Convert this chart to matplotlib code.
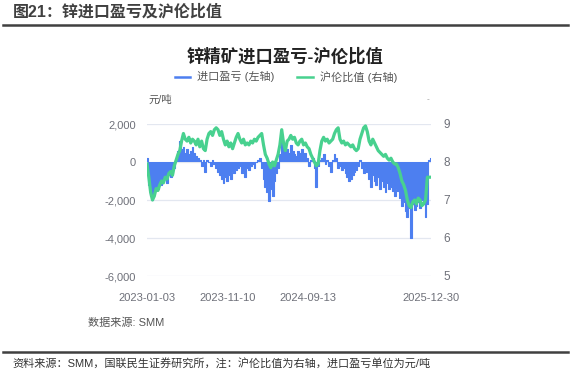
import matplotlib
matplotlib.use("Agg")
import matplotlib.pyplot as plt
import matplotlib.dates as mdates
import numpy as np
import pandas as pd

plt.rcParams['font.family'] = ['Liberation Sans', 'Noto Sans CJK SC', 'DejaVu Sans']

# ---------------- data (weekly readings from the picture) ----------------
dates = pd.date_range("2023-01-03", "2025-12-30", freq="7D")

import_profit = [
    200, -1200, -1800, -2000, -1600, -1300, -1400, -1100, -1200, -1000,
    -900, -1100, -700, -800, -600, -300, 100, 600, 1100, 700,
    800, 500, 700, 400, 600, 800, 500, 300, 200, 100,
    -200, 100, -500, 100, 0, -200, 100, -100, -300, -500,
    -700, -900, -1100, -800, -1000, -700, -900, -500, -600, -400,
    -300, -200, -600, -500, -800, -300, -400, -200, -100, -300,
    0, 100, 200, -300, -900, -1300, -1600, -2050, -1400, -1800,
    -1000, -600, -300, 400, 1100, 600, 800, 700, 500, 900,
    600, 400, 300, 600, 500, 700, 300, 500, 200, -200,
    100, 200, -300, -1300, -200, 100, 200, 400, -100, 100,
    -200, -500, 100, 400, 200, -300, -200, -400, -300, -600,
    -800, -1000, -900, -700, -500, -400, -200, 100, -300, -600,
    -300, -500, -900, -1300, -700, -1000, -1200, -800, -1400, -1000,
    -1300, -1600, -1100, -1400, -1300, -1500, -1800, -1400, -1500, -1900,
    -2300, -2100, -2600, -2900, -2400, -4000, -2200, -2500, -2300, -2100,
    -2400, -2000, -2200, -2900, -2200, 100, 200,
]

shfe_lme_ratio = [
    7.95, 7.6, 7.2, 7.0, 7.1, 7.3, 7.25, 7.4, 7.5, 7.45,
    7.6, 7.55, 7.7, 7.75, 7.65, 7.9, 8.05, 8.2, 8.3, 8.55,
    8.75, 8.6, 8.55, 8.65, 8.5, 8.6, 8.55, 8.45, 8.6, 8.4,
    8.55, 8.35, 8.3, 8.6, 8.75, 8.8, 8.7, 8.85, 8.9, 8.85,
    8.7, 8.8, 8.6, 8.45, 8.55, 8.4, 8.5, 8.35, 8.5, 8.65,
    8.75, 8.6, 8.5, 8.6, 8.45, 8.5, 8.45, 8.55, 8.5, 8.6,
    8.55, 8.65, 8.7, 8.75, 8.45, 8.2, 8.1, 7.95, 7.85, 8.0,
    7.9, 8.05, 8.2, 8.45, 8.85, 8.5, 8.3, 8.55, 8.6, 8.7,
    8.6, 8.65, 8.5, 8.45, 8.55, 8.6, 8.45, 8.5, 8.4, 8.35,
    8.2, 8.1, 8.0, 7.9, 7.95, 8.3, 8.55, 8.65, 8.55, 8.6,
    8.5, 8.55, 8.6, 8.75, 8.85, 8.9, 8.6, 8.5, 8.55, 8.45,
    8.5, 8.45, 8.4, 8.45, 8.35, 8.3, 8.35, 8.6, 8.75, 8.9,
    8.95, 8.8, 8.55, 8.45, 8.6, 8.5, 8.4, 8.3, 8.25, 8.2,
    8.15, 8.2, 8.1, 8.05, 8.1, 8.0, 7.95, 7.95, 7.85, 7.7,
    7.5, 7.4, 7.25, 7.0, 6.85, 6.8, 6.95, 7.0, 6.9, 7.05,
    7.0, 6.85, 6.9, 7.0, 7.6, 7.6, 7.6,
]

left_ticks = [2000, 0, -2000, -4000, -6000]
left_labels = ["2,000", "0", "-2,000", "-4,000", "-6,000"]
right_ticks = [9, 8, 7, 6, 5]
x_tick_dates = ["2023-01-03", "2023-11-10", "2024-09-13", "2025-12-30"]

title_text = "图21：锌进口盈亏及沪伦比值"
chart_title = "锌精矿进口盈亏-沪伦比值"
legend_labels = ["进口盈亏 (左轴)", "沪伦比值 (右轴)"]
source_inner = "数据来源: SMM"
footnote = "资料来源：SMM，国联民生证券研究所，注：沪伦比值为右轴，进口盈亏单位为元/吨"

# ---------------- figure ----------------
W, H = 576, 375
fig = plt.figure(figsize=(W / 100, H / 100), dpi=100)
fig.patch.set_facecolor("white")

def fx(px):
    return px / W

def fy(py):
    return 1 - py / H

blue = "#4d7ff0"
green = "#48d18f"
grid_c = "#e3e7f0"
tick_c = "#6e7079"

ax = fig.add_axes([fx(147), fy(276), fx(431) - fx(147), fy(124) - fy(276)])
ax2 = ax.twinx()
ax.set_zorder(1)
ax2.set_zorder(2)
ax.patch.set_visible(False)
ax2.patch.set_visible(False)

x = mdates.date2num(dates)
profit = np.array(import_profit, dtype=float)
ratio = np.array(shfe_lme_ratio, dtype=float)

ax.fill_between(x, 0, profit, step="mid", color=blue, lw=0, zorder=2)
ax.step(x, profit, where="mid", color=blue, lw=0.8, zorder=2)
ax2.plot(x, ratio, color=green, lw=2.3, zorder=3, solid_joinstyle="round")

ax.set_ylim(-6000, 2000)
ax2.set_ylim(5, 9)
ax.set_xlim(x[0], x[-1])

for t in left_ticks:
    ax.axhline(t, color=grid_c, lw=0.9, zorder=0)

ax.set_yticks(left_ticks)
ax.set_yticklabels(left_labels)
ax2.set_yticks(right_ticks)
ax2.set_yticklabels([str(v) for v in right_ticks])
xt = mdates.date2num(pd.to_datetime(x_tick_dates))
ax.set_xticks(xt)
ax.set_xticklabels(x_tick_dates)

for a in (ax, ax2):
    for s in a.spines.values():
        s.set_visible(False)
ax.tick_params(axis="both", length=0, labelsize=8, labelcolor=tick_c)
ax.tick_params(axis="y", pad=8)
ax.tick_params(axis="x", pad=12)
ax2.tick_params(axis="y", length=0, labelsize=8.5, labelcolor=tick_c, pad=9)

# ---------------- texts ----------------
fig.text(fx(13), fy(12), title_text, fontsize=11.5, fontweight="bold",
         color="#404040", ha="left", va="center")
fig.add_artist(plt.Line2D([fx(3), fx(568)], [fy(24.5), fy(24.5)],
                          color="#404040", lw=1.8))

fig.text(fx(285), fy(56), chart_title, fontsize=12.5, fontweight="bold",
         color="#222222", ha="center", va="center")

# legend
fig.add_artist(plt.Line2D([fx(175), fx(190)], [fy(77), fy(77)], color=blue, lw=1.8))
fig.text(fx(197), fy(77), legend_labels[0], fontsize=8, color="#555555",
         ha="left", va="center")
fig.add_artist(plt.Line2D([fx(297), fx(313)], [fy(77), fy(77)], color=green, lw=1.8))
fig.text(fx(320), fy(77), legend_labels[1], fontsize=8, color="#555555",
         ha="left", va="center")

fig.text(fx(148), fy(100), "元/吨", fontsize=7.5, color="#555555",
         ha="left", va="center")
fig.text(fx(428), fy(100), "-", fontsize=6, color="#999999",
         ha="center", va="center")

fig.text(fx(88), fy(323), source_inner, fontsize=8, color="#555555",
         ha="left", va="center")

fig.add_artist(plt.Line2D([fx(3), fx(568)], [fy(351.5), fy(351.5)],
                          color="#404040", lw=1.8))
fig.text(fx(12), fy(364), footnote, fontsize=8, color="#333333",
         ha="left", va="center")

fig.savefig("out.png", dpi=100, facecolor="white")
